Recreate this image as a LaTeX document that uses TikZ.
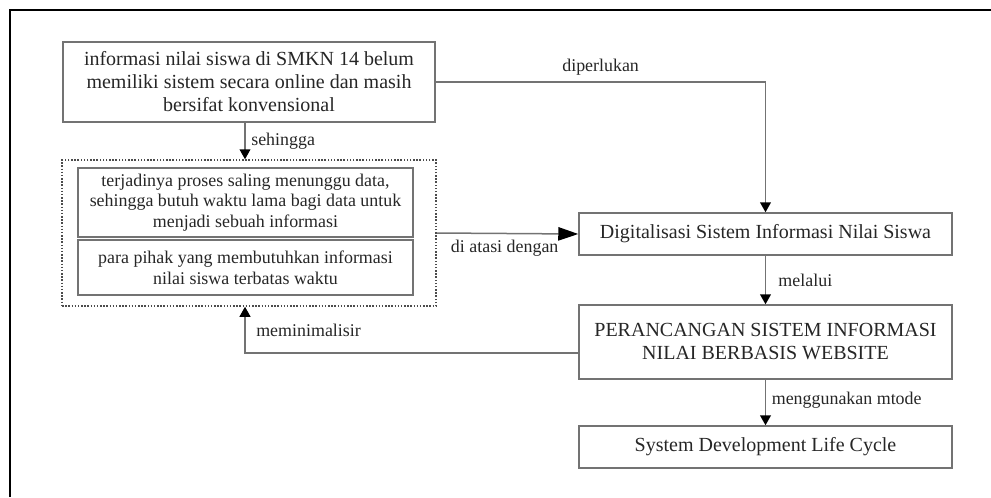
\documentclass[tikz,border=0pt]{standalone}
\usepackage{fontspec}
\setmainfont{Liberation Serif}
\usetikzlibrary{arrows.meta}
\begin{document}
\begin{tikzpicture}[x=0.6pt, y=-0.6pt,
    main/.style = {draw=black!55, line width=0.9pt, align=center, text=black!85,
      font=\fontsize{12}{13.8}\selectfont, minimum width=223.8pt},
    sub/.style = {main, font=\fontsize{10.75}{12.4}\selectfont, minimum width=201pt},
    lbl/.style = {text=black!85, font=\fontsize{10.75}{12}\selectfont},
    conn/.style = {draw=black!55, line width=0.9pt, -{Triangle[length=6pt,width=6.5pt,color=black]}}]
  \useasboundingbox (0,0) rectangle (991,497);
  \draw[line width=1.2pt] (10,497) -- (10,10) -- (991,10);

  \node[main, minimum width=223.2pt, minimum height=48pt] (masalah) at (249,82)
    {informasi nilai siswa di SMKN 14 belum\\ memiliki sistem secara online dan masih\\ bersifat konvensional};
  \node[draw=black!70, densely dotted, line width=0.9pt, minimum width=224.4pt, minimum height=87.6pt] (grp) at (249,233) {};
  \node[sub, minimum height=39pt] (a) at (245.5,202.5)
    {terjadinya proses saling menunggu data,\\ sehingga butuh waktu lama bagi data untuk\\ menjadi sebuah informasi};
  \node[sub, minimum height=33pt] (b) at (245.5,267.5)
    {para pihak yang membutuhkan informasi\\ nilai siswa terbatas waktu};
  \node[main, minimum height=25.2pt] (digital) at (765.5,234) {Digitalisasi Sistem Informasi Nilai Siswa};
  \node[main, minimum height=44.4pt] (rancang) at (765.5,342) {PERANCANGAN SISTEM INFORMASI\\ NILAI BERBASIS WEBSITE};
  \node[main, minimum height=25.2pt] (sdlc) at (765.5,447) {System Development Life Cycle};
  \coordinate (mid) at (245,0);

  \draw[conn] (masalah.south -| mid) -- node[lbl, right] {sehingga} (grp.north -| mid);
  \draw[conn] (masalah.east) -| node[lbl, above, pos=0.25] {diperlukan} (digital.north);
  \draw[conn, -{Triangle[length=12pt,width=8pt,color=black]}] (grp.east) -- node[lbl, below, pos=0.48] {di atasi dengan} (digital.west);
  \draw[conn] (digital) -- node[lbl, right=4pt] {melalui} (rancang);
  \draw[conn] (rancang) -- node[lbl, right, yshift=1.5pt] {menggunakan mtode} (sdlc);
  \draw[conn] ([yshift=-6.6pt]rancang.west) -| node[lbl, right, pos=0.75, xshift=3pt] {meminimalisir} (grp.south -| mid);
\end{tikzpicture}
\end{document}
